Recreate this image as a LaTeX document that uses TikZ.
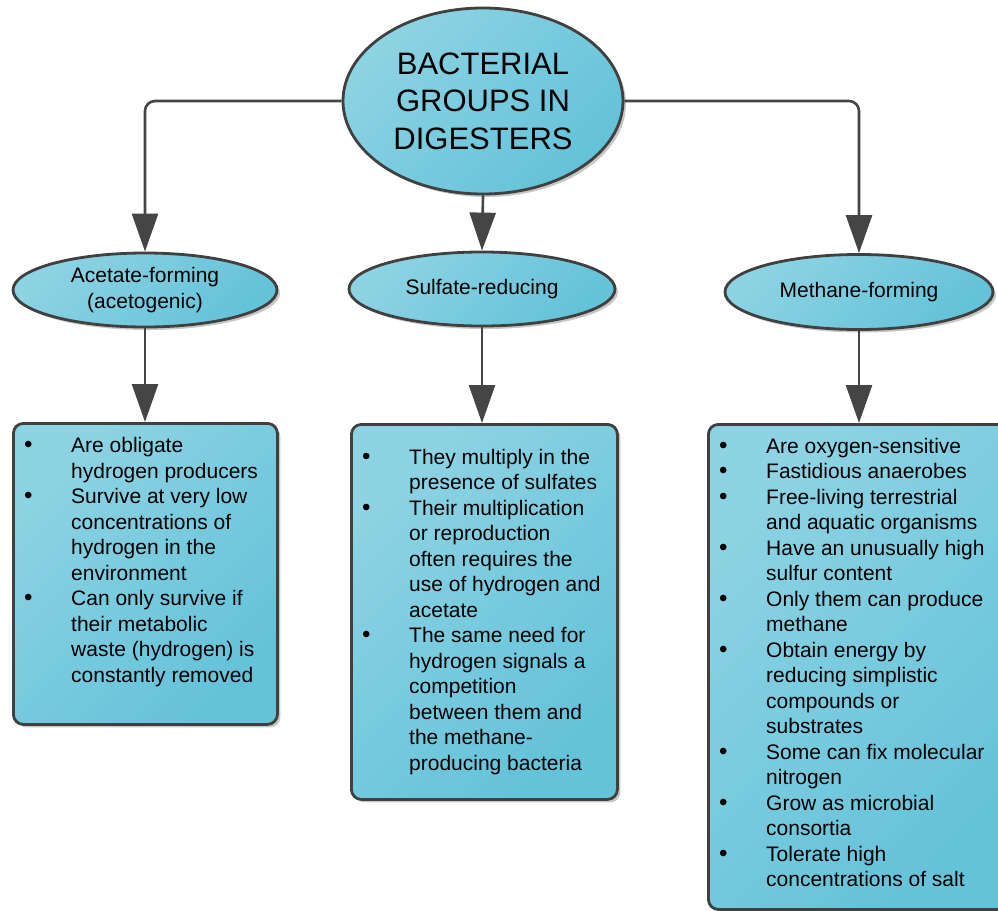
\documentclass[tikz,border=0pt]{standalone}
\usepackage{fontspec}
\setmainfont{Liberation Sans}
\usetikzlibrary{shapes.geometric,arrows.meta,shadows}

\definecolor{lightfill}{HTML}{8DD3E3}
\definecolor{darkfill}{HTML}{64C2D9}
\definecolor{edge}{HTML}{404040}
\definecolor{wire}{HTML}{454545}

\newcommand\bodyfont{\fontsize{21}{25.5}\selectfont}
\newcommand\titlefont{\fontsize{31}{37.5}\selectfont}
% bullet line and continuation line of a list
\newcommand\bitem{\makebox[59pt][l]{\hspace{12pt}\scalebox{1.15}{\textbullet}}}
\newcommand\bcont{\hspace*{59pt}}

\begin{document}
\begin{tikzpicture}[x=1pt,y=-1pt,
  shapefill/.style={draw=edge, line width=2.8pt,
    top color=lightfill, bottom color=darkfill, shading angle=45,
    drop shadow={shadow xshift=3pt, shadow yshift=-3pt, fill=black!40, opacity=0.55}},
  oval/.style={shapefill, ellipse, inner sep=0pt, align=center},
  card/.style={shapefill, rectangle, rounded corners=10pt, anchor=north west, inner sep=0pt},
  conn/.style={draw=wire, line width=2.6pt, rounded corners=10pt,
    -{Triangle[width=26pt,length=38pt]}},
  bullets/.style={anchor=base west, inner sep=0pt, font=\bodyfont}]

\useasboundingbox (0,0) rectangle (998,910);

% root
\node[oval, minimum width=280pt, minimum height=186pt, font=\titlefont]
  (root) at (483,101) {BACTERIAL\\GROUPS IN\\DIGESTERS};

% groups
\node[oval, minimum width=264pt, minimum height=74pt, font=\bodyfont]
  (ace) at (145,290) {Acetate-forming\\(acetogenic)};
\node[oval, minimum width=266pt, minimum height=74pt, font=\bodyfont]
  (sul) at (482,289) {Sulfate-reducing};
\node[oval, minimum width=268pt, minimum height=75pt, font=\bodyfont]
  (met) at (859,292) {Methane-forming};

% description cards
\node[card, minimum width=264pt, minimum height=301pt] (acebox) at (12,422) {};
\node[card, minimum width=266pt, minimum height=375pt] (sulbox) at (350,423) {};
\node[card, minimum width=310pt, minimum height=485pt] (metbox) at (707,423) {};

% connectors
\draw[conn] (root.west) -| (ace.north);
\draw[conn] (root.south) -- (sul.north);
\draw[conn] (root.east) -| (met.north);
\draw[conn] (ace.south) -- (ace.south |- acebox.north);
\draw[conn] (sul.south) -- (sul.south |- sulbox.north);
\draw[conn] (met.south) -- (met.south |- metbox.north);

% lists
\node[bullets] (acetext) at (12,452.7) {\begin{tabular}[t]{@{}l@{}}
\bitem Are obligate\\
\bcont hydrogen producers\\
\bitem Survive at very low\\
\bcont concentrations of\\
\bcont hydrogen in the\\
\bcont environment\\
\bitem Can only survive if\\
\bcont their metabolic\\
\bcont waste (hydrogen) is\\
\bcont constantly removed
\end{tabular}};

\node[bullets] (sultext) at (350,464.3) {\begin{tabular}[t]{@{}l@{}}
\bitem They multiply in the\\
\bcont presence of sulfates\\
\bitem Their multiplication\\
\bcont or reproduction\\
\bcont often requires the\\
\bcont use of hydrogen and\\
\bcont acetate\\
\bitem The same need for\\
\bcont hydrogen signals a\\
\bcont competition\\
\bcont between them and\\
\bcont the methane-\\
\bcont producing bacteria
\end{tabular}};

\node[bullets] (mettext) at (707,453.3) {\begin{tabular}[t]{@{}l@{}}
\bitem Are oxygen-sensitive\\
\bitem Fastidious anaerobes\\
\bitem Free-living terrestrial\\
\bcont and aquatic organisms\\
\bitem Have an unusually high\\
\bcont sulfur content\\
\bitem Only them can produce\\
\bcont methane\\
\bitem Obtain energy by\\
\bcont reducing simplistic\\
\bcont compounds or\\
\bcont substrates\\
\bitem Some can fix molecular\\
\bcont nitrogen\\
\bitem Grow as microbial\\
\bcont consortia\\
\bitem Tolerate high\\
\bcont concentrations of salt
\end{tabular}};

\end{tikzpicture}
\end{document}
